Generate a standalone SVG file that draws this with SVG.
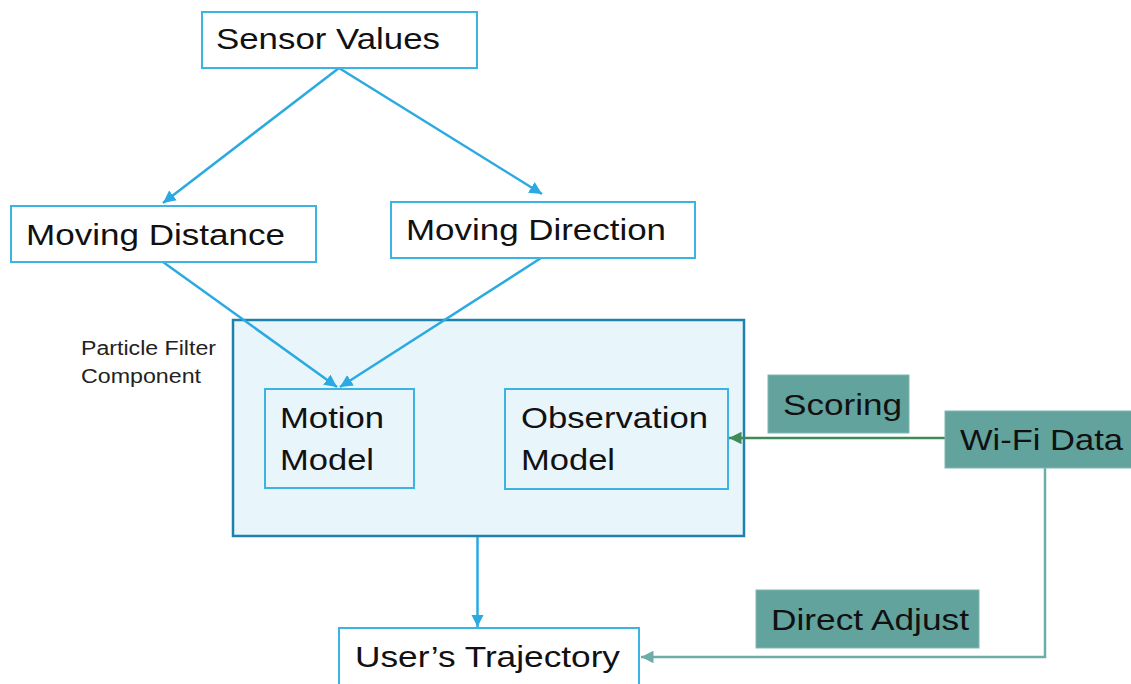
<svg xmlns="http://www.w3.org/2000/svg" width="1131" height="684" viewBox="0 0 1131 684">
  <style>
    .box { fill: #ffffff; stroke: #3bb3e3; stroke-width: 2; }
    .inner { fill: #e8f5fb; stroke: #3bb3e3; stroke-width: 2; }
    .tag { fill: #62a39d; stroke: #7fb8b2; stroke-width: 1; }
    .lbl { font-family: "Liberation Sans", Arial, sans-serif; font-size: 30px; fill: #111111; }
    .small { font-family: "Liberation Sans", Arial, sans-serif; font-size: 20px; fill: #222222; }
    .flow { fill: none; stroke: #2aaae0; stroke-width: 2.5; }
    .wifi { fill: none; stroke: #3e8b57; stroke-width: 2.5; }
    .adj { fill: none; stroke: #6eada7; stroke-width: 2.5; }
  </style>
  <defs>
    <marker id="ahBlue" viewBox="0 0 10 10" refX="10" refY="5" markerWidth="5" markerHeight="5" markerUnits="strokeWidth" orient="auto">
      <path d="M0,0 L10,5 L0,10 z" fill="#2aaae0"/>
    </marker>
    <marker id="ahGreen" viewBox="0 0 10 10" refX="10" refY="5" markerWidth="5" markerHeight="5" markerUnits="strokeWidth" orient="auto">
      <path d="M0,0 L10,5 L0,10 z" fill="#3e8b57"/>
    </marker>
    <marker id="ahTeal" viewBox="0 0 10 10" refX="10" refY="5" markerWidth="5" markerHeight="5" markerUnits="strokeWidth" orient="auto">
      <path d="M0,0 L10,5 L0,10 z" fill="#6eada7"/>
    </marker>
  </defs>

  <!-- particle filter container -->
  <g id="particle-filter">
    <rect x="233" y="320" width="511" height="216" fill="#e8f5fb" stroke="#1f82ad" stroke-width="2.5"/>
    <text class="small" x="81" y="355" textLength="135" lengthAdjust="spacingAndGlyphs">Particle Filter</text>
    <text class="small" x="81" y="383" textLength="120" lengthAdjust="spacingAndGlyphs">Component</text>
  </g>

  <!-- connectors -->
  <g id="connectors">
    <line class="flow" x1="339" y1="68" x2="163" y2="203" marker-end="url(#ahBlue)"/>
    <line class="flow" x1="339" y1="68" x2="542" y2="194" marker-end="url(#ahBlue)"/>
    <line class="flow" x1="163" y1="262" x2="337" y2="387" marker-end="url(#ahBlue)"/>
    <line class="flow" x1="541" y1="258" x2="340" y2="387" marker-end="url(#ahBlue)"/>
    <line class="flow" x1="477.5" y1="537" x2="477.5" y2="627" marker-end="url(#ahBlue)"/>
    <line class="wifi" x1="945" y1="438" x2="729" y2="438" marker-end="url(#ahGreen)"/>
    <polyline class="adj" points="1045,468 1045,657 641,657" marker-end="url(#ahTeal)"/>
  </g>

  <g id="sensor-values">
    <rect class="box" x="202" y="12" width="275" height="56"/>
    <text class="lbl" x="216" y="49" textLength="224" lengthAdjust="spacingAndGlyphs">Sensor Values</text>
  </g>

  <g id="moving-distance">
    <rect class="box" x="11" y="206" width="305" height="56"/>
    <text class="lbl" x="26" y="245" textLength="259" lengthAdjust="spacingAndGlyphs">Moving Distance</text>
  </g>

  <g id="moving-direction">
    <rect class="box" x="391" y="202" width="304" height="56"/>
    <text class="lbl" x="406" y="240" textLength="260" lengthAdjust="spacingAndGlyphs">Moving Direction</text>
  </g>

  <g id="motion-model">
    <rect class="inner" x="265" y="389" width="149" height="99"/>
    <text class="lbl" x="280" y="428" textLength="104" lengthAdjust="spacingAndGlyphs">Motion</text>
    <text class="lbl" x="280" y="470" textLength="94" lengthAdjust="spacingAndGlyphs">Model</text>
  </g>

  <g id="observation-model">
    <rect class="inner" x="505" y="389" width="223" height="100"/>
    <text class="lbl" x="521" y="428" textLength="187" lengthAdjust="spacingAndGlyphs">Observation</text>
    <text class="lbl" x="521" y="470" textLength="94" lengthAdjust="spacingAndGlyphs">Model</text>
  </g>

  <g id="scoring">
    <rect class="tag" x="768" y="375" width="141" height="58"/>
    <text class="lbl" x="783" y="415" textLength="119" lengthAdjust="spacingAndGlyphs">Scoring</text>
  </g>

  <g id="wifi-data">
    <rect class="tag" x="945" y="411" width="190" height="57"/>
    <text class="lbl" x="960" y="450" textLength="163" lengthAdjust="spacingAndGlyphs">Wi-Fi Data</text>
  </g>

  <g id="direct-adjust">
    <rect class="tag" x="756" y="590" width="223" height="58"/>
    <text class="lbl" x="771" y="630" textLength="198" lengthAdjust="spacingAndGlyphs">Direct Adjust</text>
  </g>

  <g id="user-trajectory">
    <rect class="box" x="339" y="628" width="300" height="64"/>
    <text class="lbl" x="355" y="667" textLength="265" lengthAdjust="spacingAndGlyphs">User’s Trajectory</text>
  </g>
</svg>
